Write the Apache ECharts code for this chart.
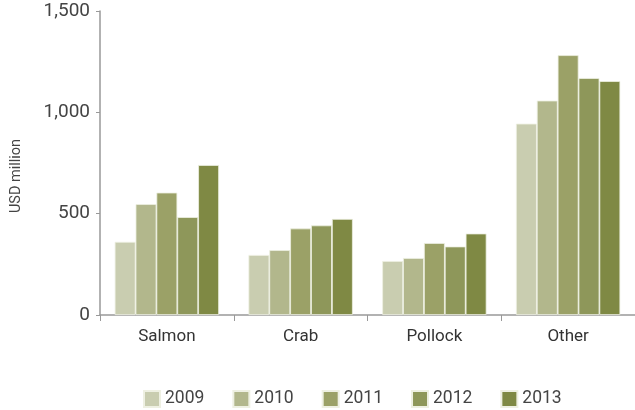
<!DOCTYPE html>
<html>
<head>
<meta charset="utf-8">
<script src="https://cdn.jsdelivr.net/npm/echarts@6/dist/echarts.min.js"></script>
<style>
  html, body { margin: 0; padding: 0; background: #fff; }
  #chart { width: 635px; height: 410px; }
</style>
</head>
<body>
<div id="chart"></div>
<script>
// data
const categories = ['Salmon', 'Crab', 'Pollock', 'Other']
const years = ['2009', '2010', '2011', '2012', '2013']
const v2009 = [361, 296, 266, 944]
const v2010 = [547, 320, 281, 1058]
const v2011 = [604, 427, 355, 1282]
const v2012 = [483, 442, 338, 1169]
const v2013 = [740, 474, 402, 1154]
const yTicks = [0, 500, 1000, 1500]

const colors = ['#c9cdb0', '#b2b78c', '#9ba167', '#8e975a', '#7f8944']
const font = 'Roboto, "Noto Sans", sans-serif'

const chart = echarts.init(document.getElementById('chart'))

chart.setOption({
  animation: false,
  color: colors,
  grid: { left: 100, right: 0, top: 11, bottom: 95 },
  legend: {
    bottom: 2,
    left: 143,
    padding: 0,
    itemWidth: 16,
    itemHeight: 16,
    itemGap: 28,
    icon: 'rect',
    textStyle: { fontFamily: font, fontSize: 17.5, color: '#444' },
    data: years,
  },
  xAxis: {
    type: 'category',
    data: categories,
    axisLine: { lineStyle: { color: '#999', width: 1.5 } },
    axisTick: { show: true, length: 6, alignWithLabel: false, lineStyle: { color: '#999' } },
    axisLabel: { fontFamily: font, fontSize: 17, color: '#333', margin: 13 },
  },
  yAxis: {
    type: 'value',
    min: 0,
    max: yTicks[yTicks.length - 1],
    interval: 500,
    name: 'USD million',
    nameLocation: 'middle',
    nameGap: 76,
    nameTextStyle: { fontFamily: font, fontSize: 14.5, color: '#444', padding: [0, 26, 0, 0] },
    axisLine: { show: true, lineStyle: { color: '#999', width: 1.5 } },
    axisTick: { show: true, length: 4, lineStyle: { color: '#999' } },
    splitLine: { show: false },
    axisLabel: {
      fontFamily: font,
      fontSize: 19,
      color: '#444',
      margin: 10,
      formatter: (v) => v.toLocaleString('en-US'),
    },
  },
  series: [v2009, v2010, v2011, v2012, v2013].map((d, i) => ({
    name: years[i],
    type: 'bar',
    data: d,
    barGap: '0%',
    barCategoryGap: '22%',
    itemStyle: { borderColor: '#eef0e2', borderWidth: 0.8 },
  })),
})
</script>
</body>
</html>
